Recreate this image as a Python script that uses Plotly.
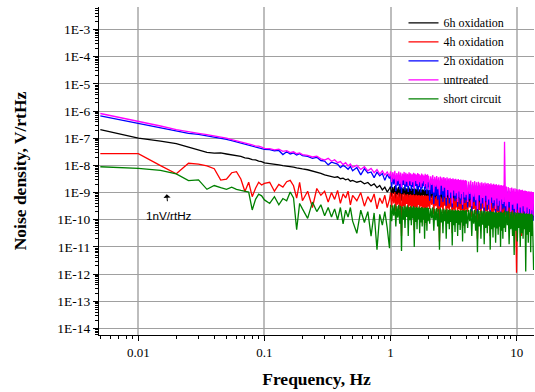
import numpy as np
import plotly.graph_objects as go

# ---------------- data (frequency in Hz, noise density as log10(V/rtHz)) ----------------
freq_low = [0.005, 0.010, 0.015, 0.020, 0.025, 0.030, 0.035, 0.040, 0.045, 0.050,
            0.055, 0.060, 0.065, 0.070, 0.075, 0.080, 0.085, 0.090, 0.095, 0.100]
freq_mid = [0.11, 0.12, 0.13, 0.14, 0.15, 0.16, 0.17, 0.18, 0.19, 0.20,
            0.22, 0.24, 0.26, 0.28, 0.30, 0.32, 0.34, 0.36, 0.38, 0.40, 0.42, 0.44, 0.46, 0.48, 0.50,
            0.54, 0.58, 0.62, 0.66, 0.70, 0.74, 0.78, 0.82, 0.86, 0.90, 0.94, 0.98]
freq_high = [
    1.00, 1.02, 1.04, 1.06, 1.08, 1.10, 1.12, 1.14, 1.16, 1.18,
    1.20, 1.22, 1.24, 1.26, 1.28, 1.30, 1.32, 1.34, 1.36, 1.38,
    1.40, 1.42, 1.44, 1.46, 1.48, 1.50, 1.52, 1.54, 1.56, 1.58,
    1.60, 1.62, 1.64, 1.66, 1.68, 1.70, 1.72, 1.74, 1.76, 1.78,
    1.80, 1.82, 1.84, 1.86, 1.88, 1.90, 1.92, 1.94, 1.96, 1.98,
    2.00, 2.04, 2.08, 2.12, 2.16, 2.20, 2.24, 2.28, 2.32, 2.36,
    2.40, 2.44, 2.48, 2.52, 2.56, 2.60, 2.64, 2.68, 2.72, 2.76,
    2.80, 2.84, 2.88, 2.92, 2.96, 3.00, 3.04, 3.08, 3.12, 3.16,
    3.20, 3.24, 3.28, 3.32, 3.36, 3.40, 3.44, 3.48, 3.52, 3.56,
    3.60, 3.64, 3.68, 3.72, 3.76, 3.80, 3.84, 3.88, 3.92, 3.96,
    4.00, 4.08, 4.16, 4.24, 4.32, 4.40, 4.48, 4.56, 4.64, 4.72,
    4.80, 4.88, 4.96, 5.04, 5.12, 5.20, 5.28, 5.36, 5.44, 5.52,
    5.60, 5.68, 5.76, 5.84, 5.92, 6.00, 6.08, 6.16, 6.24, 6.32,
    6.40, 6.48, 6.56, 6.64, 6.72, 6.80, 6.88, 6.96, 7.04, 7.12,
    7.20, 7.28, 7.36, 7.44, 7.52, 7.60, 7.68, 7.76, 7.84, 7.92,
    8.00, 8.14, 8.28, 8.42, 8.56, 8.70, 8.84, 8.98, 9.12, 9.26,
    9.40, 9.54, 9.68, 9.82, 9.96, 10.10, 10.24, 10.38, 10.52, 10.66,
    10.80, 10.94, 11.08, 11.22, 11.36, 11.50, 11.64, 11.78, 11.92, 12.06,
    12.20, 12.34, 12.48, 12.62, 12.76, 12.90, 13.04, 13.18, 13.32, 13.46,
    13.60]
frequency = freq_low + freq_mid + freq_high

log_noise_6h = [
    -6.68, -7.00, -7.11, -7.20, -7.33, -7.43, -7.52, -7.55, -7.54, -7.58,
    -7.61, -7.66, -7.67, -7.72, -7.74, -7.79, -7.80, -7.84, -7.86, -7.91,
    -7.93, -7.96, -7.98, -8.01, -8.02, -8.05, -8.06, -8.09, -8.10, -8.13,
    -8.16, -8.20, -8.24, -8.29, -8.35, -8.38, -8.40, -8.44, -8.42, -8.49, -8.47, -8.53, -8.50, -8.58, -8.55,
    -8.62, -8.58, -8.68, -8.63, -8.75, -8.68, -8.82, -8.74, -8.90, -8.80, -8.98, -8.85,
    -8.78, -9.15, -8.80, -9.05, -8.76, -9.25, -8.82, -9.10, -8.79, -9.20,
    -8.81, -9.30, -8.84, -9.08, -8.80, -9.18, -8.83, -9.12, -8.85, -9.28,
    -8.82, -9.10, -8.86, -9.22, -8.84, -9.15, -8.87, -9.35, -8.85, -9.12,
    -8.88, -9.20, -8.86, -9.25, -8.89, -9.15, -8.87, -9.32, -8.90, -9.18,
    -8.88, -9.10, -8.91, -9.26, -8.89, -9.20, -8.92, -9.34, -8.90, -9.16,
    -8.92, -9.35, -8.94, -9.20, -8.91, -9.45, -8.95, -9.25, -8.93, -9.38,
    -8.96, -9.50, -8.94, -9.24, -8.97, -9.40, -8.95, -9.28, -8.98, -9.48,
    -8.96, -9.26, -8.99, -9.42, -8.97, -9.32, -9.00, -9.55, -8.98, -9.30,
    -9.01, -9.40, -8.99, -9.34, -9.02, -9.52, -9.00, -9.32, -9.03, -9.45,
    -9.01, -9.36, -9.04, -9.56, -9.02, -9.34, -9.05, -9.44, -9.03, -9.40,
    -9.07, -9.50, -9.09, -9.35, -9.06, -9.60, -9.10, -9.40, -9.08, -9.52,
    -9.11, -9.65, -9.09, -9.42, -9.12, -9.58, -9.10, -9.45, -9.13, -9.62,
    -9.11, -9.44, -9.14, -9.60, -9.12, -9.48, -9.15, -9.70, -9.13, -9.46,
    -9.16, -9.58, -9.14, -9.50, -9.17, -9.68, -9.15, -9.48, -9.18, -9.62,
    -9.16, -9.52, -9.19, -9.72, -9.17, -9.50, -9.20, -9.60, -9.18, -9.55,
    -9.23, -9.70, -9.25, -9.55, -9.24, -9.80, -9.27, -9.60, -9.26, -9.75,
    -9.29, -9.85, -9.28, -9.62, -9.31, -9.80, -9.30, -9.65, -9.33, -9.90,
    -9.32, -9.68, -9.35, -9.85, -9.34, -9.70, -9.37, -9.95, -9.36, -9.72,
    -9.39, -9.88, -9.38, -9.75, -9.41, -9.98, -9.40, -9.78, -9.42, -9.92,
    -9.43]

log_noise_4h = [
    -7.57, -7.57, -8.01, -8.31, -7.92, -7.95, -8.02, -8.12, -8.54, -8.51,
    -8.27, -8.23, -8.50, -8.96, -8.62, -9.15, -8.84, -8.62, -8.72, -8.66,
    -8.62, -8.95, -8.70, -8.80, -8.60, -8.55, -8.75, -9.20, -8.62, -9.30,
    -8.95, -9.55, -8.85, -9.10, -8.95, -9.35, -9.00, -9.25, -8.92, -9.40, -9.05, -9.20, -8.95, -9.45, -9.10,
    -9.30, -9.00, -9.50, -9.15, -9.35, -9.05, -9.60, -9.20, -9.40, -9.10, -9.55, -9.25,
    -9.00, -9.55, -9.02, -9.40, -8.98, -9.70, -9.05, -9.45, -9.01, -9.62,
    -9.04, -10.60, -9.06, -9.50, -9.03, -9.65, -9.07, -9.42, -9.05, -9.75,
    -9.08, -9.48, -9.06, -9.60, -9.09, -9.52, -9.07, -10.40, -9.10, -9.55,
    -9.08, -9.68, -9.11, -9.46, -9.09, -9.72, -9.12, -9.50, -9.10, -9.64,
    -9.11, -9.56, -9.13, -10.20, -9.10, -9.58, -9.12, -9.70, -9.11, -9.52,
    -9.12, -9.60, -9.14, -9.45, -9.11, -9.80, -9.16, -9.50, -9.13, -9.70,
    -9.17, -10.80, -9.15, -9.55, -9.18, -9.75, -9.16, -9.48, -9.19, -9.85,
    -9.17, -9.58, -9.20, -9.72, -9.18, -9.52, -9.21, -10.50, -9.19, -9.62,
    -9.22, -9.78, -9.20, -9.55, -9.23, -9.82, -9.21, -9.60, -9.24, -9.74,
    -9.22, -9.64, -9.25, -10.30, -9.23, -9.68, -9.26, -9.80, -9.24, -9.62,
    -9.27, -9.70, -9.29, -9.55, -9.26, -9.90, -9.31, -9.60, -9.28, -9.80,
    -9.32, -10.70, -9.30, -9.65, -9.33, -9.85, -9.31, -9.58, -9.34, -9.95,
    -9.32, -9.68, -9.35, -9.82, -9.33, -9.62, -9.36, -10.60, -9.34, -9.72,
    -9.37, -9.88, -9.35, -9.66, -9.38, -9.92, -9.36, -9.70, -9.39, -9.84,
    -9.37, -9.74, -9.40, -10.40, -9.38, -9.78, -9.41, -9.90, -9.39, -9.75,
    -9.42, -9.85, -9.44, -9.70, -9.43, -10.10, -9.46, -9.80, -9.45, -9.95,
    -9.48, -10.30, -9.47, -9.82, -11.95, -9.90, -9.49, -10.05, -9.51, -9.85,
    -9.50, -10.60, -9.52, -9.92, -9.51, -10.15, -9.53, -9.88, -9.52, -10.40,
    -9.54, -9.95, -9.53, -10.20, -9.55, -9.90, -9.54, -10.30, -9.56, -10.00,
    -9.55]

log_noise_2h = [
    -6.18, -6.45, -6.62, -6.74, -6.82, -6.86, -6.91, -6.95, -6.99, -7.04,
    -7.09, -7.14, -7.18, -7.22, -7.24, -7.30, -7.33, -7.35, -7.38, -7.41,
    -7.42, -7.46, -7.45, -7.60, -7.50, -7.58, -7.54, -7.62, -7.57, -7.64,
    -7.67, -7.74, -7.70, -7.82, -7.84, -7.98, -7.88, -7.92, -7.95, -8.08, -8.00, -8.06, -8.14, -8.04, -8.20,
    -8.08, -8.35, -8.12, -8.28, -8.24, -8.45, -8.25, -8.38, -8.30, -8.55, -8.33, -8.48,
    -8.35, -8.82, -8.38, -8.70, -8.36, -8.95, -8.41, -8.75, -8.37, -8.88,
    -8.40, -9.02, -8.43, -8.72, -8.39, -8.92, -8.42, -8.78, -8.45, -8.98,
    -8.40, -8.75, -8.44, -8.94, -8.47, -8.80, -8.42, -9.05, -8.45, -8.76,
    -8.48, -8.88, -8.43, -8.96, -8.47, -8.80, -8.50, -9.00, -8.45, -8.85,
    -8.49, -8.76, -8.51, -8.95, -8.46, -8.86, -8.50, -9.05, -8.48, -8.80,
    -8.52, -9.30, -8.54, -9.05, -8.50, -9.42, -8.56, -9.12, -8.53, -9.25,
    -8.58, -9.50, -8.55, -9.08, -8.59, -9.35, -8.57, -9.15, -8.61, -9.48,
    -8.58, -9.10, -8.62, -9.40, -8.60, -9.20, -8.64, -9.55, -8.61, -9.12,
    -8.65, -9.32, -8.63, -9.22, -8.67, -9.52, -8.64, -9.16, -8.68, -9.42,
    -8.66, -9.25, -8.69, -9.60, -8.67, -9.18, -8.70, -9.38, -8.68, -9.28,
    -8.71, -9.55, -8.73, -9.25, -8.70, -9.70, -8.75, -9.35, -8.72, -9.48,
    -8.76, -9.80, -8.74, -9.30, -8.78, -9.60, -8.76, -9.40, -8.80, -9.75,
    -8.77, -9.32, -8.81, -9.65, -8.79, -9.45, -8.83, -9.85, -8.80, -9.38,
    -8.84, -9.58, -8.82, -9.48, -8.85, -9.80, -8.83, -9.42, -8.87, -9.68,
    -8.84, -9.50, -8.88, -9.90, -8.86, -9.45, -8.89, -9.62, -8.87, -9.55,
    -8.90, -9.72, -8.92, -9.95, -8.94, -9.55, -8.97, -10.02, -8.95, -9.65,
    -8.99, -9.85, -8.98, -10.05, -9.01, -9.62, -9.03, -9.95, -9.02, -9.75,
    -9.05, -10.10, -9.04, -9.70, -9.07, -9.92, -9.06, -10.12, -9.08, -9.75,
    -9.10, -10.00, -9.09, -9.80, -9.11, -10.15, -9.10, -9.85, -9.12, -10.05,
    -9.13]

log_noise_untreated = [
    -6.09, -6.37, -6.55, -6.68, -6.77, -6.82, -6.87, -6.91, -6.95, -7.00,
    -7.05, -7.09, -7.14, -7.16, -7.21, -7.24, -7.29, -7.29, -7.33, -7.37,
    -7.38, -7.43, -7.40, -7.48, -7.46, -7.53, -7.50, -7.57, -7.54, -7.60,
    -7.63, -7.69, -7.66, -7.76, -7.80, -7.74, -7.85, -7.79, -7.90, -7.86, -7.97, -7.90, -8.02, -7.95, -8.07,
    -8.00, -8.15, -8.05, -8.20, -8.11, -8.27, -8.15, -8.32, -8.20, -8.36, -8.24, -8.40,
    -8.22, -8.62, -8.25, -8.52, -8.20, -8.72, -8.28, -8.58, -8.23, -8.68,
    -8.26, -8.80, -8.30, -8.55, -8.24, -8.70, -8.27, -8.60, -8.31, -8.76,
    -8.25, -8.58, -8.29, -8.72, -8.33, -8.62, -8.27, -8.85, -8.30, -8.57,
    -8.34, -8.68, -8.28, -8.75, -8.32, -8.62, -8.36, -8.80, -8.30, -8.66,
    -8.34, -8.58, -8.37, -8.78, -8.31, -8.68, -8.35, -8.88, -8.33, -8.62,
    -8.38, -8.90, -8.40, -8.72, -8.36, -9.00, -8.42, -8.78, -8.39, -8.88,
    -8.44, -9.10, -8.41, -8.75, -8.45, -8.95, -8.43, -8.82, -8.47, -9.20,
    -8.44, -8.90, -8.48, -9.20, -8.46, -9.00, -8.50, -9.40, -8.47, -8.92,
    -8.51, -9.12, -8.49, -9.02, -8.53, -9.35, -8.50, -8.96, -8.54, -9.22,
    -8.52, -9.05, -8.55, -9.45, -8.53, -8.98, -8.56, -9.18, -8.54, -9.08,
    -8.57, -9.35, -8.59, -9.05, -8.56, -9.50, -8.61, -9.15, -8.58, -9.28,
    -8.62, -9.60, -8.60, -9.10, -8.64, -9.40, -8.62, -9.20, -8.66, -9.55,
    -8.63, -9.12, -8.67, -9.45, -8.65, -9.25, -8.69, -9.65, -8.66, -9.18,
    -8.70, -9.38, -8.68, -9.28, -8.71, -9.60, -8.69, -9.22, -8.73, -9.48,
    -8.70, -9.30, -8.74, -9.70, -8.72, -9.25, -8.75, -9.42, -8.73, -9.35,
    -7.13, -9.50, -8.78, -9.70, -8.80, -9.35, -8.83, -9.80, -8.81, -9.45,
    -8.85, -9.60, -8.84, -9.85, -8.87, -9.40, -8.89, -9.75, -8.88, -9.55,
    -8.91, -9.90, -8.90, -9.50, -8.93, -9.70, -8.92, -9.95, -8.94, -9.55,
    -8.96, -9.80, -8.95, -9.60, -8.97, -10.00, -8.96, -9.65, -8.98, -9.85,
    -8.99]

log_noise_short = [
    -8.05, -8.11, -8.18, -8.31, -8.56, -8.53, -8.88, -8.74, -8.82, -8.88,
    -8.80, -8.88, -8.92, -8.94, -8.98, -9.64, -9.25, -9.06, -9.12, -9.27,
    -9.40, -9.15, -9.45, -9.22, -9.30, -8.98, -9.20, -10.37, -9.40, -9.60,
    -9.95, -9.35, -9.70, -9.45, -9.85, -9.55, -9.90, -9.60, -10.00, -9.55, -10.15, -9.65, -9.90, -9.55, -10.05,
    -10.50, -9.65, -10.10, -9.70, -10.60, -9.75, -11.10, -9.80, -10.20, -9.70, -10.30, -11.05,
    -9.45, -10.05, -9.47, -9.85, -9.43, -10.25, -9.50, -9.92, -9.46, -10.15,
    -9.49, -11.15, -9.52, -10.00, -9.48, -10.30, -9.51, -9.90, -9.47, -10.60,
    -9.53, -10.02, -9.50, -10.20, -9.54, -9.95, -9.49, -11.00, -9.55, -10.08,
    -9.52, -10.35, -9.56, -9.98, -9.51, -10.50, -9.57, -10.10, -9.53, -10.25,
    -9.55, -10.00, -9.58, -10.70, -9.54, -10.12, -9.57, -10.40, -9.55, -10.05,
    -9.56, -10.15, -9.58, -9.95, -9.54, -10.40, -9.60, -10.02, -9.57, -10.25,
    -9.61, -11.10, -9.58, -10.10, -9.62, -10.50, -9.59, -10.05, -9.63, -10.70,
    -9.60, -10.15, -9.64, -10.35, -9.61, -10.08, -9.65, -10.95, -9.62, -10.20,
    -9.66, -10.45, -9.63, -10.12, -9.67, -10.60, -9.64, -10.18, -9.68, -10.38,
    -9.65, -10.10, -9.66, -10.80, -9.64, -10.22, -9.67, -10.50, -9.65, -10.15,
    -9.62, -10.30, -9.64, -10.05, -9.61, -10.60, -9.66, -10.15, -9.63, -10.40,
    -9.67, -11.20, -9.65, -10.25, -9.68, -10.70, -9.66, -10.18, -9.69, -10.90,
    -9.67, -10.30, -9.70, -10.50, -9.68, -10.22, -9.71, -11.10, -9.69, -10.35,
    -9.72, -10.65, -9.70, -10.28, -9.73, -10.85, -9.71, -10.32, -9.74, -10.55,
    -9.72, -10.26, -9.73, -11.00, -9.71, -10.40, -9.74, -10.70, -9.72, -10.30,
    -9.66, -10.45, -9.69, -10.20, -9.67, -10.90, -9.72, -10.35, -9.70, -10.60,
    -9.74, -11.30, -9.72, -10.40, -9.75, -10.80, -9.73, -10.30, -9.76, -11.00,
    -9.74, -10.50, -9.77, -10.70, -9.75, -10.35, -9.78, -11.90, -9.76, -10.55,
    -9.79, -10.85, -9.77, -10.45, -9.80, -11.20, -9.78, -10.60, -9.81, -10.75,
    -11.85]

series_names = ["6h oxidation", "4h oxidation", "2h oxidation", "untreated", "short circuit"]
series_colors = ["#000000", "#ff0000", "#0000ff", "#ff00ff", "#008000"]
series_values = [log_noise_6h, log_noise_4h, log_noise_2h, log_noise_untreated, log_noise_short]

x_tick_values = [0.01, 0.1, 1, 10]
x_tick_labels = ["0.01", "0.1", "1", "10"]
y_tick_values = [1e-14, 1e-13, 1e-12, 1e-11, 1e-10, 1e-9, 1e-8, 1e-7, 1e-6, 1e-5, 1e-4, 1e-3]
y_tick_labels = ["1E-14", "1E-13", "1E-12", "1E-11", "1E-10", "1E-9", "1E-8",
                 "1E-7", "1E-6", "1E-5", "1E-4", "1E-3"]

for vals in series_values:
    assert len(vals) == len(frequency), (len(vals), len(frequency))

# ---------------- figure ----------------
SERIF = "Liberation Serif"
fig = go.Figure()
for name, color, vals in zip(series_names, series_colors, series_values):
    fig.add_trace(go.Scatter(
        x=frequency, y=10.0 ** np.array(vals), mode="lines", name=name,
        line=dict(color=color, width=1.3)))

x_minor = [m * 10.0 ** e for e in range(-3, 2) for m in range(2, 10)]
y_minor = [m * 10.0 ** e for e in range(-15, -2) for m in range(2, 10)]

fig.update_layout(
    width=535, height=392,
    margin=dict(l=99, r=1, t=7, b=57),
    paper_bgcolor="white", plot_bgcolor="white",
    font=dict(family=SERIF, color="black"),
    showlegend=True,
    legend=dict(x=0.70, y=0.996, xanchor="left", yanchor="top",
                bgcolor="rgba(0,0,0,0)", borderwidth=0,
                font=dict(family=SERIF, size=12, color="black"),
                itemwidth=30, tracegroupgap=0),
    xaxis=dict(
        type="log", range=[np.log10(0.00488), np.log10(13.7)],
        tickmode="array", tickvals=x_tick_values, ticktext=x_tick_labels,
        ticks="outside", ticklen=5, tickcolor="black", tickwidth=1,
        tickfont=dict(family=SERIF, size=13, color="black"),
        showline=True, linecolor="black", linewidth=1,
        showgrid=True, gridcolor="#bdbdbd", gridwidth=1.5, zeroline=False,
        minor=dict(tickmode="array", tickvals=x_minor, ticks="outside", ticklen=3,
                   tickcolor="black", showgrid=False),
        title=dict(text="Frequency, Hz", standoff=14,
                   font=dict(family=SERIF, size=17.5, color="black", weight="bold")),
        automargin=False),
    yaxis=dict(
        type="log", range=[-14.242, -2.17],
        tickmode="array", tickvals=y_tick_values, ticktext=y_tick_labels,
        ticks="outside", ticklen=5, tickcolor="black", tickwidth=1,
        tickfont=dict(family=SERIF, size=13.5, color="black"),
        showline=True, linecolor="black", linewidth=1,
        showgrid=True, gridcolor="#a0a0a0", gridwidth=1, zeroline=False,
        minor=dict(tickmode="array", tickvals=y_minor, ticks="outside", ticklen=3,
                   tickcolor="black", showgrid=False),
        title=dict(text="Noise density, V/rtHz", standoff=26,
                   font=dict(family=SERIF, size=17.5, color="black", weight="bold")),
        automargin=False),
    annotations=[dict(
        x=np.log10(0.0168), y=-9.06, xref="x", yref="y",
        text="1nV/rtHz", showarrow=True, ax=2, ay=21, axref="pixel", ayref="pixel",
        arrowhead=1, arrowsize=1.2, arrowwidth=1, arrowcolor="black", startstandoff=6,
        font=dict(family="Liberation Sans", size=11.7, color="black"))],
)

fig.write_html("out.html", config={"displayModeBar": False})
